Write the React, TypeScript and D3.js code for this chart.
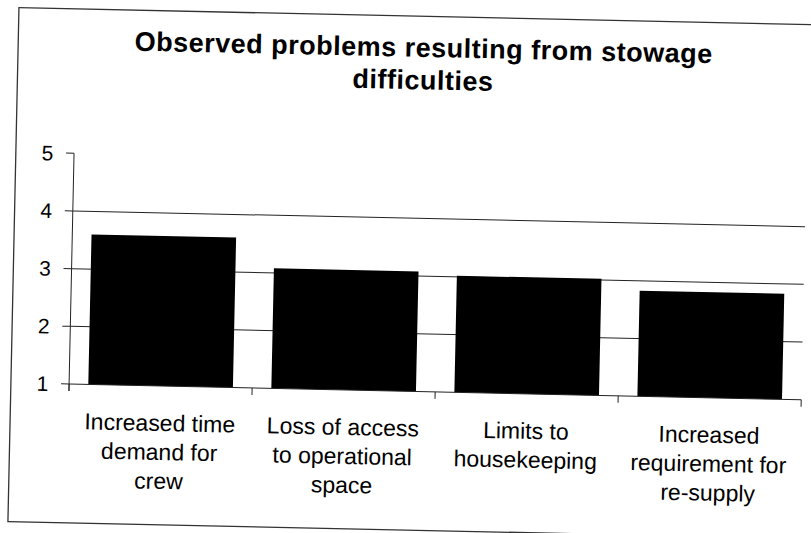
import React from "react";
import * as d3 from "d3";

const titleLines = ["Observed problems resulting from stowage", "difficulties"];
const categories = [
  "Increased time|demand for|crew",
  "Loss of access|to operational|space",
  "Limits to|housekeeping",
  "Increased|requirement for|re-supply",
];
const values = [3.6, 3.08, 3.02, 2.83];
const yTicks = [1, 2, 3, 4, 5];
const gridValues = [2, 3, 4];

const W = 811;
const H = 533;
const plotLeft = 71.7;
const plotRight = 804;
const plotTop = 160.4;
const plotBottom = 391.2;

export default function App() {
  const x = d3
    .scaleBand<string>()
    .domain(categories)
    .range([plotLeft, plotRight])
    .paddingInner(0.21)
    .paddingOuter(0.105);
  const y = d3.scaleLinear().domain([1, 5]).range([plotBottom, plotTop]);
  const step = x.step();
  const boundaries = d3.range(categories.length + 1).map((i) => plotLeft + i * step);

  return (
    <svg
      width={W}
      height={H}
      style={{ position: "absolute", left: 0, top: 0, background: "#fff" }}
      fontFamily="'Liberation Sans', Arial, sans-serif"
    >
      <rect x={0} y={0} width={W} height={H} fill="#fff" />
      <g transform="rotate(1.23 405 266)">
        {/* outer frame */}
        <rect x={13.5} y={16} width={840} height={514} fill="none" stroke="#333" strokeWidth={1.3} />
        {/* title */}
        {titleLines.map((t, i) => (
          <text
            key={t}
            x={419}
            y={56.5 + i * 32.5}
            textAnchor="middle"
            fontSize={27}
            fontWeight="bold"
            letterSpacing={0.5}
            fill="#000"
          >
            {t}
          </text>
        ))}
        {/* gridlines */}
        {gridValues.map((v) => (
          <line key={v} x1={plotLeft} x2={plotRight} y1={y(v)} y2={y(v)} stroke="#222" strokeWidth={1} />
        ))}
        {/* bars */}
        {categories.map((c, i) => (
          <rect
            key={c}
            x={x(c)}
            width={x.bandwidth()}
            y={y(values[i])}
            height={y(1) - y(values[i])}
            fill="#000"
          />
        ))}
        {/* y axis */}
        <line x1={plotLeft} x2={plotLeft} y1={plotTop} y2={plotBottom + 7} stroke="#222" strokeWidth={1} />
        {yTicks.map((t) => (
          <g key={t}>
            <line x1={plotLeft - 8} x2={plotLeft} y1={y(t)} y2={y(t)} stroke="#222" strokeWidth={1} />
            <text x={51} y={y(t)} dy="0.36em" textAnchor="end" fontSize={21} fill="#000">
              {t}
            </text>
          </g>
        ))}
        {/* x axis */}
        <line x1={plotLeft} x2={plotRight} y1={plotBottom} y2={plotBottom} stroke="#222" strokeWidth={1} />
        {boundaries.map((b, i) => (
          <line key={i} x1={b} x2={b} y1={plotBottom} y2={plotBottom + 7} stroke="#222" strokeWidth={1} />
        ))}
        {categories.map((c) => {
          const cx = (x(c) as number) + x.bandwidth() / 2;
          return (
            <text key={c} textAnchor="middle" fontSize={23} fill="#000">
              {c.split("|").map((line, j) => (
                <tspan key={j} x={cx} y={plotBottom + 45 + j * 29}>
                  {line}
                </tspan>
              ))}
            </text>
          );
        })}
      </g>
    </svg>
  );
}
